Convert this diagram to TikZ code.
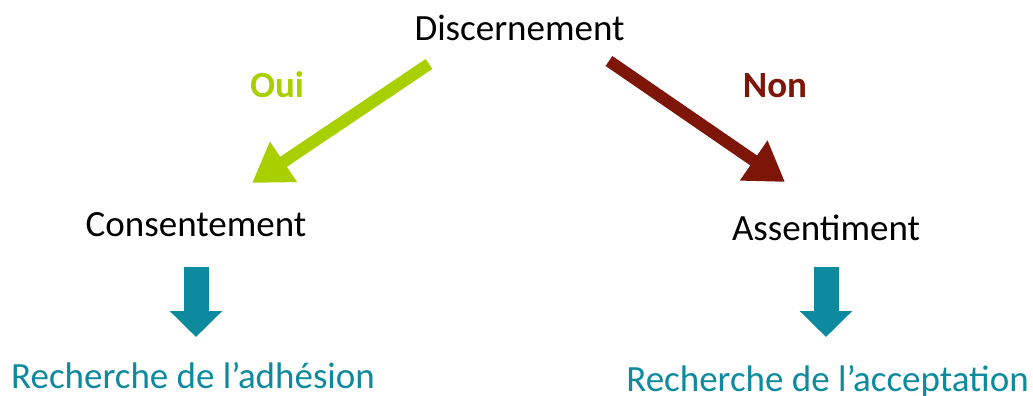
\documentclass[tikz,border=0pt]{standalone}
\usepackage{fontspec}
\setmainfont{Carlito}
\usetikzlibrary{arrows.meta}
\definecolor{oui}{HTML}{A8D000}
\definecolor{non}{HTML}{7D1508}
\definecolor{teal}{HTML}{0E8A9E}
\tikzset{
  lbl/.style={anchor=base, inner sep=0pt, font=\fontsize{37}{40}\selectfont},
  bigarrow/.style={line width=12pt, -{Triangle[width=46pt,length=38pt]}},
  downarrow/.style={teal, line width=25pt, -{Triangle[width=51pt,length=26pt]}},
}
\begin{document}
\begin{tikzpicture}[x=1pt,y=-1pt]
\useasboundingbox (0,0) rectangle (1033,396);
\node[lbl] (disc) at (519.5,41) {Discernement};
\node[lbl] (cons) at (196,236) {Consentement};
\node[lbl] (ass) at (826,240) {Assentiment};
\node[lbl, text=oui, font=\fontsize{37}{40}\selectfont\bfseries] (oui) at (277,97) {Oui};
\node[lbl, text=non, font=\fontsize{37}{40}\selectfont\bfseries] (non) at (775,97) {Non};
\node[lbl, text=teal] (adh) at (193,388) {Recherche de l’adhésion};
\node[lbl, text=teal] (acc) at (827.5,391) {Recherche de l’acceptation};
\coordinate (g1) at (429,64);
\coordinate (g2) at (252,183);
\coordinate (r1) at (609,61);
\coordinate (r2) at (785,182);
\coordinate (t1) at (196,267);
\coordinate (t2) at (196,337);
\coordinate (u1) at (826,267);
\coordinate (u2) at (826,337);
\draw[bigarrow, oui] (g1) -- (g2);
\draw[bigarrow, non] (r1) -- (r2);
\draw[downarrow] (t1) -- (t2);
\draw[downarrow] (u1) -- (u2);
\end{tikzpicture}
\end{document}
